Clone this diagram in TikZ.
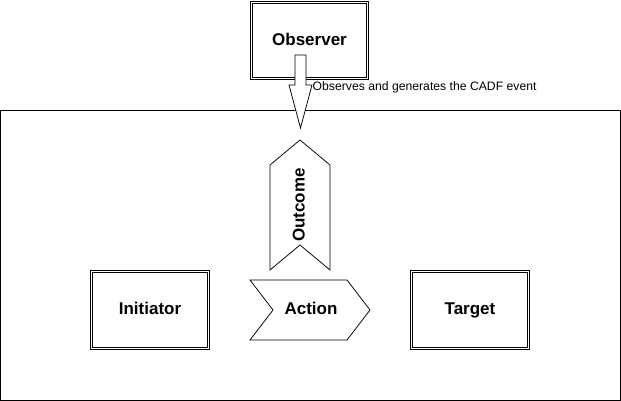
\documentclass[tikz,border=0pt]{standalone}
\usepackage{fontspec}
\setmainfont{Liberation Sans}
\begin{document}
\begin{tikzpicture}[x=1pt,y=-1pt,line join=miter,
  entity/.style={draw,double,double distance=1.8pt,line width=0.75pt,fill=white,
    minimum width=117pt,minimum height=77pt,inner sep=0pt,
    text height=12.2pt,text depth=3pt,
    font=\fontsize{17}{20}\selectfont\bfseries},
  shapeline/.style={draw,line width=0.75pt,fill=white},
  bigtext/.style={font=\fontsize{17}{20}\selectfont\bfseries,inner sep=0pt,
    text height=12.2pt,text depth=3pt},
  smalltext/.style={font=\fontsize{12.2}{14}\selectfont,inner sep=0pt}]
\useasboundingbox (0,0) rectangle (621,401);
% container
\node[draw,line width=0.75pt,minimum width=619.5pt,minimum height=289.5pt,inner sep=0pt,anchor=north west] (frame) at (0.5,110.5) {};
% observer
\node[entity,minimum width=116pt,minimum height=76pt] (observer) at (309.5,40.5) {Observer};
\node[entity] (initiator) at (150,310) {Initiator};
\node[entity] (target) at (470,310) {Target};
% block arrow
\coordinate (arrtip) at (300.5,128);
\draw[shapeline] (295,55) -- (306,55) -- (306,85) -- (312,85) -- (arrtip) -- (289,85) -- (295,85) -- cycle;
\node[smalltext,anchor=base west] (lbl) at (312.5,91) {Observes and generates the CADF event};
% outcome
\draw[shapeline] (270,165) -- (300,140) -- (330,165) -- (330,270) -- (300,245) -- (270,270) -- cycle;
\node[bigtext,rotate=90] (outcome) at (300,205) {Outcome};
% action
\draw[shapeline] (250,280) -- (347,280) -- (370,310) -- (347,340) -- (250,340) -- (273,310) -- cycle;
\node[bigtext] (action) at (311,310) {Action};
\end{tikzpicture}
\end{document}
